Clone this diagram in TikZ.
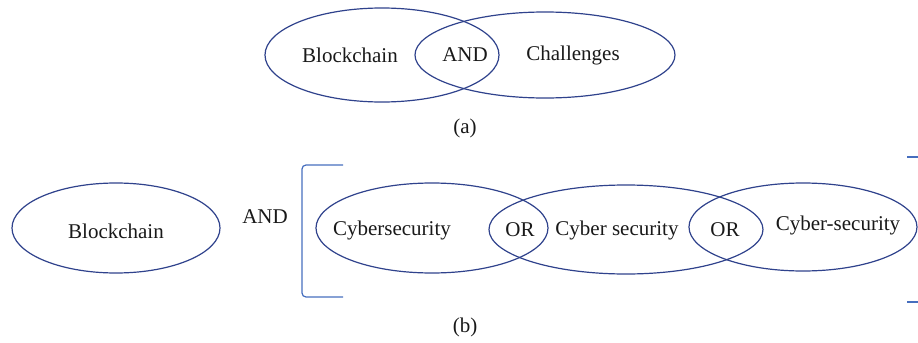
\documentclass[tikz,border=0pt]{standalone}
\usepackage{fontspec}
\setmainfont{Liberation Serif}
\usetikzlibrary{shapes.geometric}
\definecolor{ringblue}{RGB}{47,66,140}
\definecolor{brackblue}{RGB}{70,110,190}
\tikzset{
  setring/.style={ellipse,draw=ringblue,line width=0.6pt,inner sep=0pt},
  term/.style={font=\fontsize{10.5}{12}\selectfont,text=black!90,inner sep=0pt},
  brack/.style={draw=brackblue,line width=0.6pt,rounded corners=2pt}
}
\begin{document}
\begin{tikzpicture}[x=0.5pt,y=-0.5pt]
  \useasboundingbox (0,0) rectangle (918,343);
  % (a)
  \node[setring,minimum width=117pt,minimum height=47pt] (blockA) at (382,55) {};
  \node[setring,minimum width=130pt,minimum height=43pt] (chall) at (545,55) {};
  \node[term] (tblockA) at (350,55) {Blockchain};
  \node[term] (andA) at (465,55) {AND};
  \node[term] (tchall) at (573,55) {Challenges};
  \node[term] (capA) at (465,128) {(a)};
  % (b)
  \node[setring,minimum width=104pt,minimum height=45pt] (blockB) at (116,228) {};
  \node[setring,minimum width=116pt,minimum height=45pt] (cyberA) at (432,228) {};
  \node[setring,minimum width=137pt,minimum height=44.5pt] (cyberB) at (626,229.5) {};
  \node[setring,minimum width=114pt,minimum height=44pt] (cyberC) at (803,227) {};
  \node[term] (tblockB) at (116,231) {Blockchain};
  \node[term] (andB) at (265,217) {AND};
  \node[term] (tcyberA) at (392,230) {Cybersecurity};
  \node[term] (orA) at (520,230) {OR};
  \node[term] (tcyberB) at (617,230) {Cyber security};
  \node[term] (orB) at (725,230) {OR};
  \node[term] (tcyberC) at (838,225) {Cyber-security};
  \node[term] (capB) at (465,327) {(b)};
  % brackets
  \draw[brack] (343,165) -- (302,165) -- (302,297) -- (343,297);
  \draw[brack] (907,157) -- (920,157);
  \draw[brack] (907,302) -- (920,302);
\end{tikzpicture}
\end{document}
